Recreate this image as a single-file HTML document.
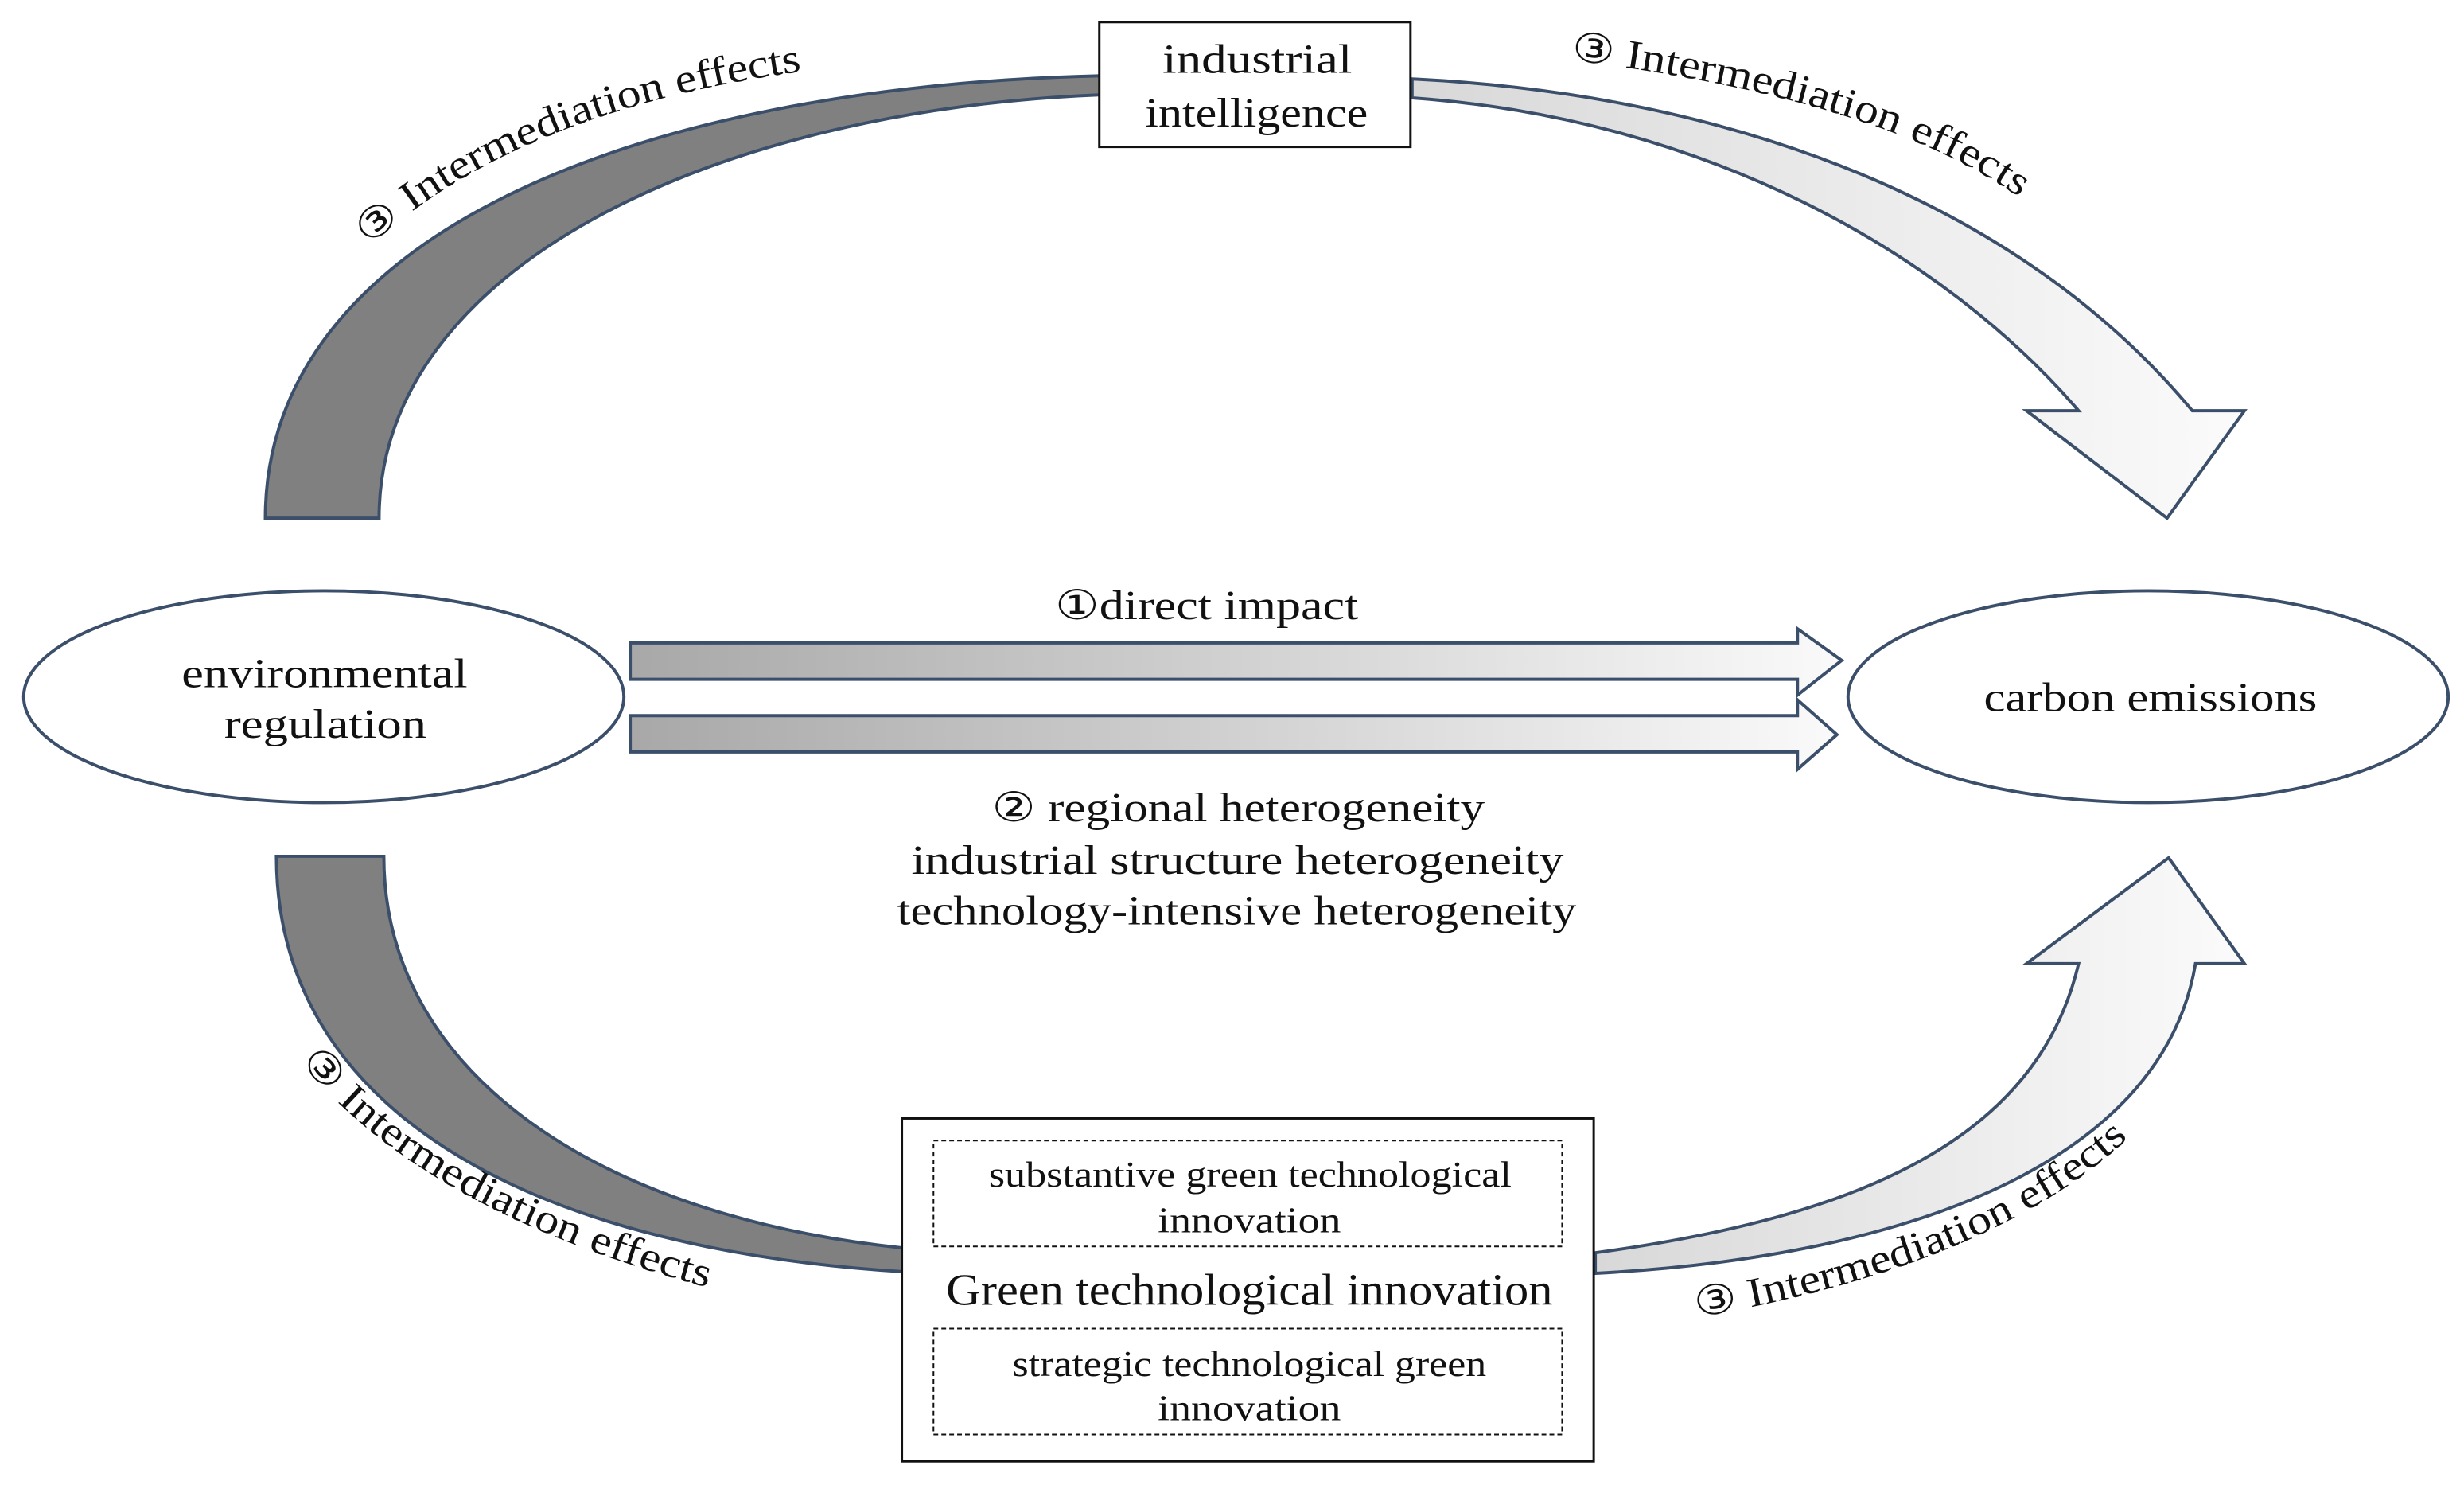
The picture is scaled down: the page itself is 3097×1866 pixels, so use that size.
<!DOCTYPE html>
<html><head><meta charset="utf-8"><style>
html,body{margin:0;padding:0;background:#fff}
svg{display:block}
text{font-family:"Liberation Serif",serif;fill:#111}
</style></head><body>
<svg width="3097" height="1866" viewBox="0 0 1560 940" preserveAspectRatio="none" xmlns="http://www.w3.org/2000/svg">
<defs>
<linearGradient id="g1" x1="0" x2="1" y1="0" y2="0"><stop offset="0" stop-color="#a8a8a8"/><stop offset="1" stop-color="#fafafa"/></linearGradient>
<linearGradient id="g2" x1="0" x2="1" y1="0" y2="0"><stop offset="0" stop-color="#d8d8d8"/><stop offset="1" stop-color="#fbfbfb"/></linearGradient>
<path id="p1" d="M234,156 Q330,68 516,44"/>
<path id="p2" d="M994,38 Q1190,62 1280,126"/>
<path id="p3" d="M190,672 Q270,770 460,818"/>
<path id="p4" d="M1074,834 Q1270,800 1356,712"/>
</defs>
<g stroke="#3b4f6b" stroke-width="2">
<path d="M168,328 C168,150 400,55 697,48 L697,60 C450,70 240,170 240,328 Z" fill="#808080"/>
<path d="M894,50 C1100,60 1280,130 1388,260 L1421,260 L1372,328 L1283,260 L1316,260 C1230,160 1080,75 894,62 Z" fill="url(#g2)"/>
<path d="M175,542 L243,542 C243,680 380,770 572,790 L572,805 C330,790 175,700 175,542 Z" fill="#808080"/>
<path d="M1010,793 C1180,770 1290,720 1316,610 L1283,610 L1373,543 L1421,610 L1390,610 C1370,730 1220,795 1010,806 Z" fill="url(#g2)"/>
<path d="M399,407 L1138,407 L1138,398 L1166,418 L1138,440 L1138,430 L399,430 Z" fill="url(#g1)"/>
<path d="M399,453 L1138,453 L1138,443 L1163,465 L1138,487 L1138,476 L399,476 Z" fill="url(#g1)"/>
<ellipse cx="205" cy="441" rx="190" ry="67" fill="#fff"/>
<ellipse cx="1360" cy="441" rx="190" ry="67" fill="#fff"/>
</g>
<rect x="696" y="14" width="197" height="79" fill="#fff" stroke="#111" stroke-width="1.5"/>
<rect x="571" y="708" width="438" height="217" fill="#fff" stroke="#111" stroke-width="1.5"/>
<rect x="591" y="722" width="398" height="67" fill="none" stroke="#111" stroke-width="1" stroke-dasharray="3,2"/>
<rect x="591" y="841" width="398" height="67" fill="none" stroke="#111" stroke-width="1" stroke-dasharray="3,2"/>
<g font-size="26">
<text x="736" y="46" textLength="120" lengthAdjust="spacingAndGlyphs">industrial</text>
<text x="725" y="80" textLength="141" lengthAdjust="spacingAndGlyphs">intelligence</text>
<text x="115" y="435" textLength="181" lengthAdjust="spacingAndGlyphs">environmental</text>
<text x="142" y="467" textLength="128" lengthAdjust="spacingAndGlyphs">regulation</text>
<text x="1256" y="450" textLength="211" lengthAdjust="spacingAndGlyphs">carbon emissions</text>
<text x="668" y="392" textLength="192" lengthAdjust="spacingAndGlyphs">①direct impact</text>
<text x="628" y="520" textLength="312" lengthAdjust="spacingAndGlyphs">② regional heterogeneity</text>
<text x="577" y="553" textLength="413" lengthAdjust="spacingAndGlyphs">industrial structure heterogeneity</text>
<text x="568" y="585" textLength="430" lengthAdjust="spacingAndGlyphs">technology-intensive heterogeneity</text>
<text x="599" y="826" font-size="28" textLength="384" lengthAdjust="spacingAndGlyphs">Green technological innovation</text>
<text x="626" y="751" font-size="23" textLength="331" lengthAdjust="spacingAndGlyphs">substantive green technological</text>
<text x="733" y="780" font-size="23" textLength="116" lengthAdjust="spacingAndGlyphs">innovation</text>
<text x="641" y="871" font-size="23" textLength="300" lengthAdjust="spacingAndGlyphs">strategic technological green</text>
<text x="733" y="899" font-size="23" textLength="116" lengthAdjust="spacingAndGlyphs">innovation</text>
</g>
<g font-size="26">
<text><textPath href="#p1" textLength="300" lengthAdjust="spacingAndGlyphs">③ Intermediation effects</textPath></text>
<text><textPath href="#p2" textLength="300" lengthAdjust="spacingAndGlyphs">③ Intermediation effects</textPath></text>
<text><textPath href="#p3" textLength="300" lengthAdjust="spacingAndGlyphs">③ Intermediation effects</textPath></text>
<text><textPath href="#p4" textLength="300" lengthAdjust="spacingAndGlyphs">③ Intermediation effects</textPath></text>
</g>
</svg>
</body></html>
